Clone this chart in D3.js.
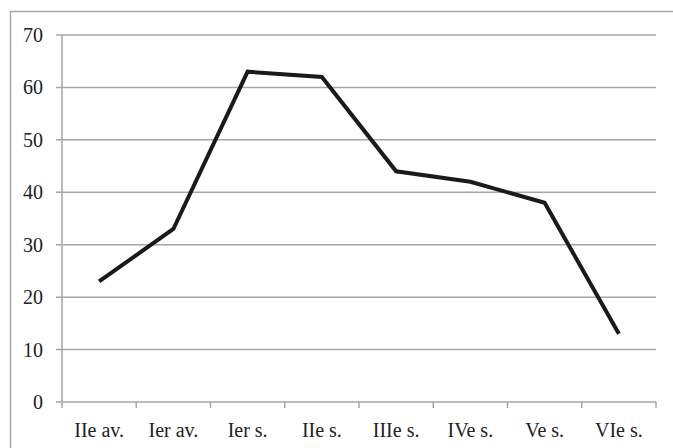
<!DOCTYPE html>
<html lang="fr">
<head>
<meta charset="UTF-8">
<title>Chart</title>
<script src="https://d3js.org/d3.v7.min.js"></script>
<style>
  body { margin: 0; background: #fff; }
</style>
</head>
<body>
<script>
    // data
    var categories = ["IIe av.", "Ier av.", "Ier s.", "IIe s.", "IIIe s.", "IVe s.", "Ve s.", "VIe s."];
    var values = [23, 33, 63, 62, 44, 42, 38, 13];
    var yTicks = [0, 10, 20, 30, 40, 50, 60, 70];

    var width = 673, height = 448;
    var margin = {top: 35, right: 17, bottom: 46, left: 62};
    var w = width - margin.left - margin.right,
        h = height - margin.top - margin.bottom;

    var svg = d3.select('body')
        .append('svg')
        .attr('width', width)
        .attr('height', height)
        .attr('font-family', "'Liberation Serif', 'DejaVu Serif', serif")
        .attr('font-size', 20)
        .attr('fill', '#222');

    // outer frame
    svg.append('rect')
        .attr('x', 10.5)
        .attr('y', 11.5)
        .attr('width', width)
        .attr('height', height)
        .attr('fill', 'none')
        .attr('stroke', '#a6a6a6')
        .attr('stroke-width', 1.5);

    var g = svg.append('g')
        .attr('transform', 'translate(' + margin.left + ',' + margin.top + ')');

    var x = d3.scaleBand().domain(categories).range([0, w]);
    var y = d3.scaleLinear().domain([0, 70]).range([h, 0]);

    // horizontal grid lines + left tick stubs
    g.selectAll('.grid')
        .data(yTicks)
        .enter()
        .append('line')
          .attr('class', 'grid')
          .attr('x1', -6)
          .attr('x2', w)
          .attr('y1', d => y(d))
          .attr('y2', d => y(d))
          .attr('stroke', '#a6a6a6')
          .attr('stroke-width', 1.5);

    // y axis line
    g.append('line')
        .attr('x1', 0).attr('x2', 0)
        .attr('y1', 0).attr('y2', h)
        .attr('stroke', '#a6a6a6')
        .attr('stroke-width', 1.5);

    // y labels
    g.selectAll('.ylab')
        .data(yTicks)
        .enter()
        .append('text')
          .attr('class', 'ylab')
          .attr('x', -19)
          .attr('y', d => y(d))
          .attr('dy', '0.35em')
          .attr('font-family', "'Liberation Serif', serif")
          .style('text-anchor', 'end')
          .text(d => d);

    // x axis ticks at category boundaries
    var bounds = categories.map(c => x(c)).concat([w]);
    g.selectAll('.xtick')
        .data(bounds)
        .enter()
        .append('line')
          .attr('class', 'xtick')
          .attr('x1', d => d).attr('x2', d => d)
          .attr('y1', h).attr('y2', h + 6)
          .attr('stroke', '#a6a6a6')
          .attr('stroke-width', 1.5);

    // x labels
    g.selectAll('.xlab')
        .data(categories)
        .enter()
        .append('text')
          .attr('class', 'xlab')
          .attr('x', d => x(d) + x.bandwidth() / 2)
          .attr('y', h + 35)
          .attr('font-family', "'Liberation Serif', serif")
          .style('text-anchor', 'middle')
          .text(d => d);

    // the line
    var line = d3.line()
        .x((d, i) => x(categories[i]) + x.bandwidth() / 2)
        .y(d => y(d));

    g.append('path')
        .datum(values)
        .attr('fill', 'none')
        .attr('stroke', '#1a1a1a')
        .attr('stroke-width', 4)
        .attr('stroke-linejoin', 'miter')
        .attr('d', line);
</script>
</body>
</html>
